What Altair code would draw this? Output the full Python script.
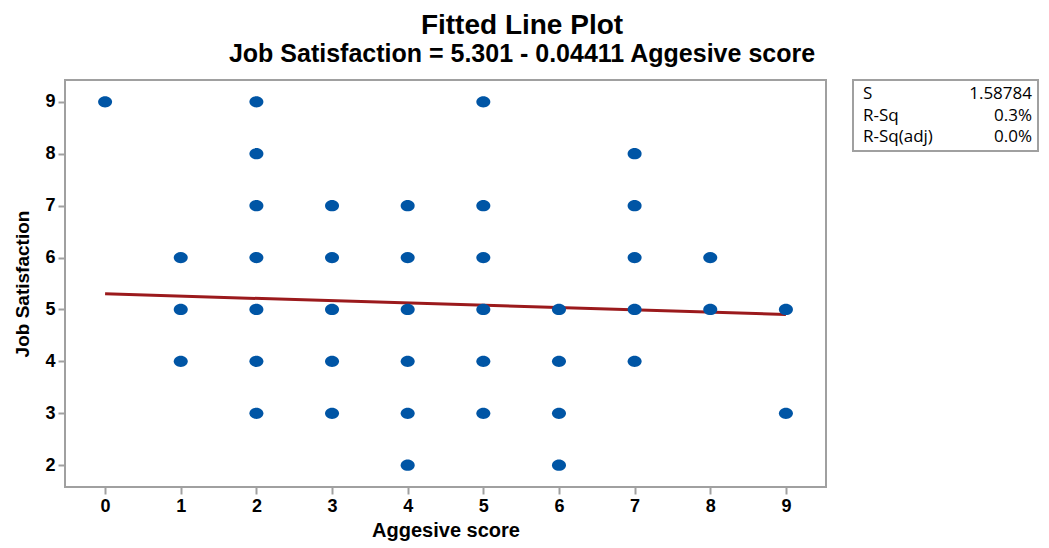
import altair as alt
import pandas as pd

# ---- data ----
aggressive = [0,
              1, 1, 1,
              2, 2, 2, 2, 2, 2, 2,
              3, 3, 3, 3, 3,
              4, 4, 4, 4, 4, 4,
              5, 5, 5, 5, 5, 5,
              6, 6, 6, 6,
              7, 7, 7, 7, 7,
              8, 8,
              9, 9]
satisfaction = [9,
                6, 5, 4,
                9, 8, 7, 6, 5, 4, 3,
                7, 6, 5, 4, 3,
                7, 6, 5, 4, 3, 2,
                9, 7, 6, 5, 4, 3,
                5, 4, 3, 2,
                8, 7, 6, 5, 4,
                6, 5,
                5, 3]

intercept = 5.301
slope = -0.04411
fit_x = [0, 9]
fit_y = [intercept + slope * v for v in fit_x]

stat_names = ["S", "R-Sq", "R-Sq(adj)"]
stat_values = ["1.58784", "0.3%", "0.0%"]

title_text = ["Fitted Line Plot"]
subtitle_text = ["Job Satisfaction = 5.301 - 0.04411 Aggesive score"]

x_ticks = [0, 1, 2, 3, 4, 5, 6, 7, 8, 9]
y_ticks = [2, 3, 4, 5, 6, 7, 8, 9]

pts = pd.DataFrame({"x": aggressive, "y": satisfaction})
fit = pd.DataFrame({"x": fit_x, "y": fit_y})

W, H = 761, 407
xscale = alt.Scale(domain=[-0.53, 9.53], nice=False, zero=False)
yscale = alt.Scale(domain=[1.58, 9.42], nice=False, zero=False)

xenc = alt.X("x:Q", scale=xscale,
             axis=alt.Axis(values=x_ticks, title="Aggesive score", format="d",
                           titleFontSize=20, titlePadding=5, labelPadding=3))
yenc = alt.Y("y:Q", scale=yscale,
             axis=alt.Axis(values=y_ticks, title="Job Satisfaction", format="d",
                           titleFontSize=19, titlePadding=12, labelPadding=3))

ellipse = "M -1 0 A 1 0.8 0 1 1 1 0 A 1 0.8 0 1 1 -1 0 Z"

points = alt.Chart(pts).mark_point(
    filled=True, shape=ellipse, size=196, color="#0055a5", opacity=1
).encode(x=xenc, y=yenc)

line = alt.Chart(fit).mark_line(color="#9b1a1c", strokeWidth=3).encode(x="x:Q", y="y:Q")

box = alt.Chart(pd.DataFrame({"a": [0]})).mark_rect(
    fill="white", stroke="#a0a0a0", strokeWidth=2
).encode(x=alt.value(788), x2=alt.value(973), y=alt.value(0), y2=alt.value(71))

layers = [line, points, box]
row_y = [14, 36, 57]
for i, (n, v) in enumerate(zip(stat_names, stat_values)):
    d = pd.DataFrame({"n": [n], "v": [v]})
    layers.append(alt.Chart(d).mark_text(
        align="left", baseline="middle", font="Open Sans", fontSize=17, color="black"
    ).encode(x=alt.value(798), y=alt.value(row_y[i]), text="n:N"))
    layers.append(alt.Chart(d).mark_text(
        align="right", baseline="middle", font="Open Sans", fontSize=17, color="black"
    ).encode(x=alt.value(967), y=alt.value(row_y[i]), text="v:N"))

# titles as text marks (centred on the whole figure)
layers.append(alt.Chart(pd.DataFrame({"t": title_text})).mark_text(
    align="center", baseline="alphabetic", font="Liberation Sans", fontSize=28,
    fontWeight="bold", color="black"
).encode(x=alt.value(457), y=alt.value(-46), text="t:N"))
layers.append(alt.Chart(pd.DataFrame({"t": subtitle_text})).mark_text(
    align="center", baseline="alphabetic", font="Liberation Sans", fontSize=25,
    fontWeight="bold", color="black"
).encode(x=alt.value(457), y=alt.value(-18), text="t:N"))

chart = alt.layer(*layers).properties(
    width=W, height=H,
    autosize=alt.AutoSizeParams(type="none"),
    padding={"left": 57, "top": 72, "right": 214, "bottom": 58},
).configure_view(
    stroke="#a0a0a0", strokeWidth=2
).configure_axis(
    domain=False, grid=False,
    tickColor="#a0a0a0", tickSize=7, tickWidth=2,
    labelFont="Liberation Sans", labelFontWeight="bold", labelFontSize=18, labelColor="black",
    titleFont="Liberation Sans", titleFontWeight="bold", titleColor="black"
)

chart.save("out.html", embed_options={"renderer": "svg", "actions": False})
